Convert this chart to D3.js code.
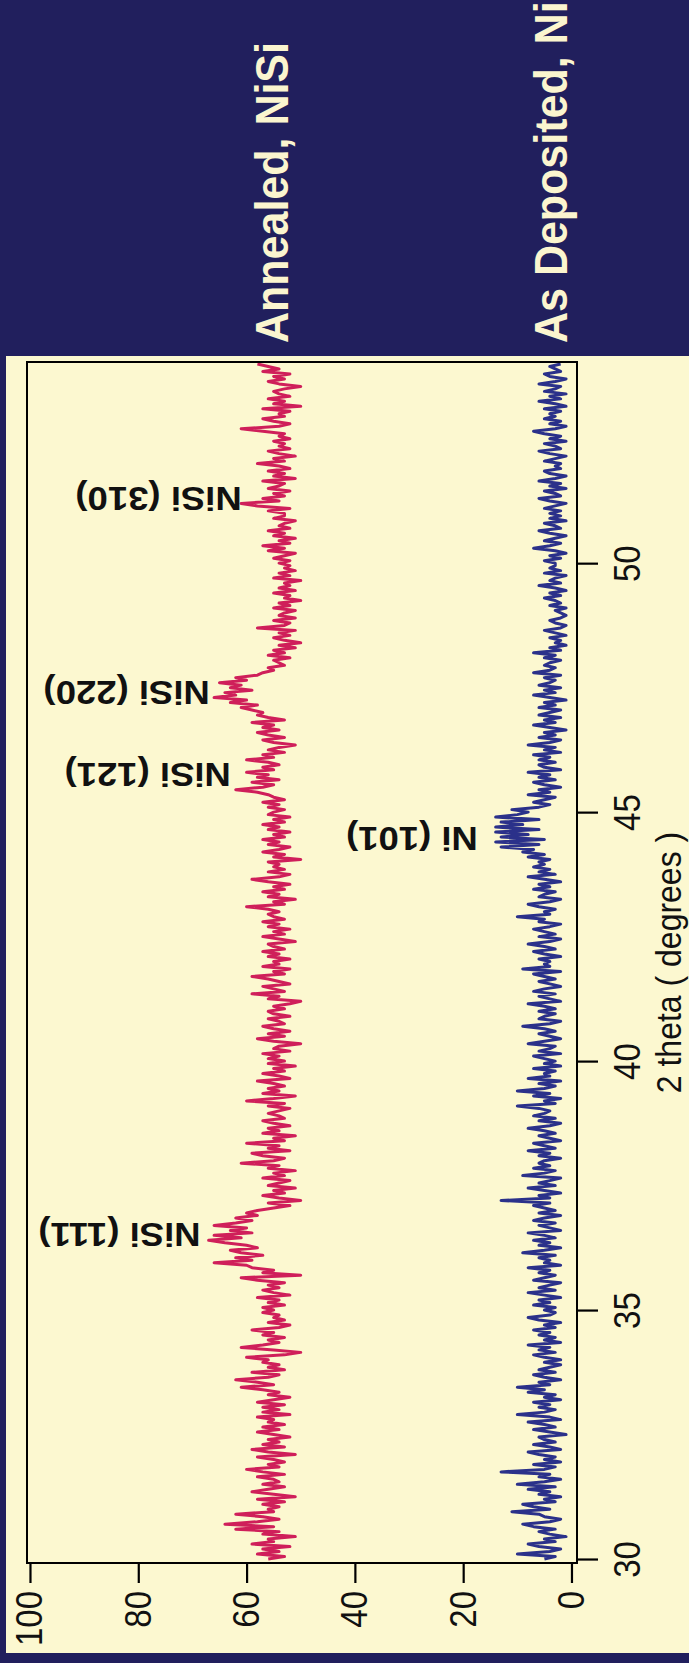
<!DOCTYPE html>
<html>
<head>
<meta charset="utf-8">
<script src="https://cdn.jsdelivr.net/npm/d3@7"></script>
<style>
  html, body { margin: 0; padding: 0; background: #211f5d; }
  svg { display: block; }
</style>
</head>
<body>
<svg id="chart" width="689" height="1663"></svg>
<script>
// X-ray diffraction scans, 2θ from 30° to 54° in 0.05° steps
const thetaStart = 30;
const thetaStep = 0.05;

// Annealed film (NiSi), one row per degree
const annealedNiSi = [
  56,53,58,54,57,52,59,55,56,51,57,54,62,55,64,58,54,57,62,55,
  56,54,57,53,58,51,55,59,56,53,57,54,55,58,53,57,60,54,56,53,
  55,58,51,56,59,53,57,54,56,52,55,58,54,57,53,56,55,58,52,57,
  54,57,53,58,55,52,56,54,57,61,55,58,62,56,54,59,53,56,54,57,
  56,60,53,50,55,61,57,54,56,53,57,55,59,54,52,56,53,55,54,57,
  55,57,53,56,54,58,52,55,57,54,56,53,58,61,50,57,55,59,60,66,
  59,62,57,61,63,58,60,64,67,61,66,59,63,60,66,62,59,62,58,60,
  58,55,52,56,50,54,57,53,55,51,56,54,52,57,53,55,51,56,54,61,
  55,53,57,59,52,56,54,60,53,55,51,57,54,56,52,55,57,53,54,56,
  54,52,56,53,60,55,51,57,54,56,53,55,58,52,54,57,53,55,51,56,
  53,56,54,57,52,55,54,50,55,58,53,56,52,55,57,53,54,56,52,55,
  56,53,55,52,50,56,54,59,53,55,57,52,54,56,59,53,55,52,57,54,
  55,52,56,54,57,53,55,56,51,54,57,53,55,52,56,54,57,53,55,56,
  54,56,60,53,55,51,56,54,57,53,55,52,56,59,54,52,56,53,55,54,
  56,50,55,53,57,54,52,56,54,57,53,55,52,56,54,57,53,55,52,56,
  55,53,56,54,57,53,55,56,58,62,57,55,59,54,58,56,60,55,57,54,
  56,60,55,57,53,56,54,51,55,57,53,56,58,54,57,55,59,53,56,58,
  57,59,61,58,63,60,66,62,64,59,63,61,65,60,62,58,57,55,56,53,
  54,55,52,56,53,55,51,54,50,53,55,52,54,51,58,53,52,55,51,54,
  53,51,55,52,54,50,53,52,55,51,54,52,53,50,55,52,54,51,53,52,
  54,52,55,53,51,56,53,57,52,54,51,55,53,56,52,54,53,51,55,53,
  53,56,52,58,61,54,57,53,55,52,56,54,53,57,51,55,53,56,52,54,
  58,53,55,51,54,56,52,54,53,55,52,54,53,57,61,54,52,55,57,53,
  54,52,57,50,55,53,56,52,54,55,53,50,54,56,53,55,52,57,54,56,
  58
];

// As-deposited film (Ni)
const asDepositedNi = [
  5,3,10,4,2,6,8,3,5,1,4,6,3,7,9,4,2,5,6,11,
  4,7,9,3,5,2,6,4,8,3,10,5,2,6,4,13,5,3,7,2,
  5,3,6,8,2,4,7,3,5,6,1,4,7,3,5,8,2,4,10,5,
  3,6,4,7,2,5,3,8,5,10,4,6,2,5,7,3,6,4,2,5,
  2,5,7,3,6,4,8,2,5,3,6,4,7,3,5,2,6,8,4,3,
  5,3,7,4,6,2,5,8,3,6,4,2,7,5,3,6,4,8,2,5,
  4,6,3,9,5,2,6,4,7,3,5,8,2,4,6,3,7,5,2,6,
  3,5,7,4,13,4,6,2,5,8,3,6,4,2,9,5,3,7,4,6,
  5,2,6,4,8,3,5,7,2,4,6,3,5,8,4,2,6,3,7,5,
  4,6,10,3,5,2,7,4,10,5,3,6,2,8,4,5,3,7,2,5,
  3,5,7,2,6,4,3,8,5,2,4,6,3,5,9,4,2,6,5,3,
  6,3,5,8,2,4,6,3,7,5,2,4,6,3,5,7,2,9,4,5,
  4,6,2,5,7,3,5,8,4,2,6,3,5,7,4,2,6,5,10,4,
  5,3,6,8,4,2,6,5,3,7,4,6,2,5,8,3,6,4,7,5,
  6,4,8,5,9,7,13,6,14,5,13,8,14,6,14,9,13,6,14,10,
  8,11,6,4,7,5,3,8,4,6,2,5,7,3,6,4,8,2,5,6,
  3,6,4,7,2,5,3,8,4,2,6,3,5,1,4,7,3,5,2,6,
  4,2,6,3,5,1,4,7,3,5,2,6,4,3,5,2,7,4,3,5,
  4,2,5,3,7,2,4,1,3,2,4,1,3,5,2,1,3,4,2,1,
  2,3,1,4,2,3,5,2,4,1,3,6,2,4,3,1,5,2,4,3,
  3,5,2,4,1,3,7,4,2,5,3,1,4,6,2,3,5,1,4,2,
  4,2,5,3,1,4,6,2,3,5,1,4,2,6,3,1,4,5,2,3,
  2,5,3,1,4,6,2,3,5,1,4,2,5,7,3,1,4,2,5,3,
  4,2,5,1,3,6,2,4,1,5,3,2,6,3,1,4,5,2,3,4,
  2
];

const seriesNames = ["Annealed, NiSi", "As Deposited, Ni"];
const thetaTicks = [30, 35, 40, 45, 50];
const intensityTicks = [0, 20, 40, 60, 80, 100];
const axisTitle = "2 theta ( degrees )";

// Reflection labels: text, 2θ and intensity of the label anchor
const peakLabels = ["NiSi (111)", "NiSi (121)", "NiSi (220)", "NiSi (310)", "Ni (101)"];
const peakTheta = [36.75, 45.99, 47.63, 51.53, 44.70];
const peakIntensity = [68.5, 62.9, 66.8, 60.9, 17.3];

// ---- layout (the plot is drawn turned a quarter turn: 2θ runs upward, intensity leftward)
const W = 689, H = 1663;
const NAVY = "#211f5d", CREAM = "#fcf8d0";
const FONT = "'Liberation Sans', Arial, Helvetica, sans-serif";
const box = { left: 27, right: 577, top: 362, bottom: 1563 };

const svg = d3.select("#chart");

svg.append("rect").attr("x", 0).attr("y", 0).attr("width", W).attr("height", H).attr("fill", NAVY);
svg.append("rect").attr("x", 6).attr("y", 356).attr("width", W - 6).attr("height", 1653 - 356).attr("fill", CREAM);

// 2θ → vertical screen position, intensity → horizontal screen position
const theta = d3.scaleLinear().domain([29.92, 54.04]).range([box.bottom, box.top]);
const intensity = d3.scaleLinear().domain([-1.02, 100.55]).range([box.right, box.left]);

const toPoints = vals => vals.map((v, i) => ({ t: thetaStart + i * thetaStep, v }));

const line = d3.line()
  .x(d => intensity(d.v))
  .y(d => theta(d.t));

const series = [
  { name: seriesNames[0], values: annealedNiSi, color: "#cf1f5a" },
  { name: seriesNames[1], values: asDepositedNi, color: "#2b318a" }
];

svg.append("g")
  .selectAll("path")
  .data(series)
  .join("path")
  .attr("d", d => line(toPoints(d.values)))
  .attr("fill", "none")
  .attr("stroke", d => d.color)
  .attr("stroke-width", 3)
  .attr("stroke-linejoin", "round");

// plot frame
svg.append("rect")
  .attr("x", box.left).attr("y", box.top)
  .attr("width", box.right - box.left).attr("height", box.bottom - box.top)
  .attr("fill", "none").attr("stroke", "#000").attr("stroke-width", 2);

// 2θ axis along the right side
const gTheta = svg.append("g")
  .attr("transform", `translate(${box.right},0)`)
  .call(d3.axisRight(theta).tickValues(thetaTicks).tickSize(21).tickFormat(d3.format("d")));
gTheta.select(".domain").remove();
gTheta.attr("font-size", null).attr("font-family", null);
gTheta.selectAll(".tick line").attr("stroke", "#000").attr("stroke-width", 2.2);
gTheta.selectAll(".tick text")
  .attr("x", 0).attr("y", 0).attr("dy", null)
  .attr("transform", "translate(63,0) rotate(-90) scale(1,1.1)")
  .attr("text-anchor", "middle")
  .attr("fill", "#111")
  .style("font-family", FONT).style("font-size", "33px");

// intensity axis along the bottom
const gInt = svg.append("g")
  .attr("transform", `translate(0,${box.bottom})`)
  .call(d3.axisBottom(intensity).tickValues(intensityTicks).tickSize(20).tickFormat(d3.format("d")));
gInt.select(".domain").remove();
gInt.attr("font-size", null).attr("font-family", null);
gInt.selectAll(".tick line").attr("stroke", "#000").attr("stroke-width", 2.2);
gInt.selectAll(".tick text")
  .attr("x", 0).attr("y", 0).attr("dy", null)
  .attr("transform", "translate(12,28) rotate(-90) scale(1,1.1)")
  .attr("text-anchor", "end")
  .attr("fill", "#111")
  .style("font-family", FONT).style("font-size", "33px");

// axis title
const midTheta = (theta.range()[0] + theta.range()[1]) / 2;
svg.append("text")
  .attr("transform", `translate(681,${midTheta}) rotate(-90) scale(1,1.08)`)
  .attr("text-anchor", "middle")
  .attr("fill", "#111")
  .style("font-family", FONT).style("font-size", "32px")
  .text(axisTitle);

// series titles in the header band
const titleX = [288, 567];
svg.append("g")
  .selectAll("text")
  .data(seriesNames)
  .join("text")
  .attr("transform", (d, i) => `translate(${titleX[i]},343) rotate(-90) scale(1,1.06)`)
  .attr("text-anchor", "start")
  .attr("fill", "#fbf5cf")
  .style("font-family", FONT).style("font-size", "43px").style("font-weight", "bold")
  .text(d => d);

// reflection labels, written upside down next to their peaks
svg.append("g")
  .selectAll("text")
  .data(peakLabels.map((s, i) => ({ s, t: peakTheta[i], v: peakIntensity[i] })))
  .join("text")
  .attr("transform", d => `translate(${intensity(d.v)},${theta(d.t)}) rotate(180) scale(1.09,1)`)
  .attr("text-anchor", "start")
  .attr("fill", "#111")
  .style("font-family", FONT).style("font-size", "33.5px").style("font-weight", "bold")
  .text(d => d.s);
</script>
</body>
</html>
